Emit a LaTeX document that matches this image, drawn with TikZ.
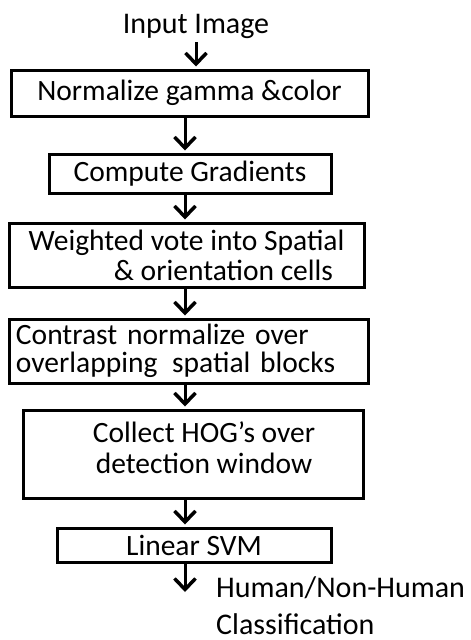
\documentclass[tikz,border=0pt]{standalone}
\usepackage{fontspec}
\setmainfont{Carlito}
\usetikzlibrary{arrows.meta}

\begin{document}
\begin{tikzpicture}[x=1pt, y=-1pt,
                    stage/.style = {draw, line width=3pt, inner sep=0pt, font=\fontsize{29.5}{30}\selectfont},
                    flow/.style = {line width=3pt, -{Straight Barb[length=11pt,width=21pt,line width=3.5pt]}, shorten >=2pt},
                    caption/.style = {inner sep=0pt, font=\fontsize{30}{37}\selectfont}]
                    \useasboundingbox (0,0) rectangle (471,640);

                    \node [caption, anchor=base] (input) at (196,33) {Input Image};

                    \node [stage, minimum width=357pt, minimum height=46pt] (gamma) at (189.5,93) {Normalize gamma \&color};
                    \node [stage, minimum width=282pt, minimum height=39pt] (grad) at (190,173.5) {Compute Gradients};
                    \node [stage, minimum width=355pt, minimum height=64pt, align=center] (vote) at (186.5,255)
                        {Weighted vote into Spatial\\\hspace*{74pt}\& orientation cells};
                    \node [stage, minimum width=359pt, minimum height=64pt, align=left, text width=345pt,
                           font=\fontsize{29.5}{28}\selectfont] (norm) at (188.5,351)
                        {Contrast normalize over\\overlapping\enspace spatial blocks};
                    \node [stage, minimum width=340pt, minimum height=88pt] (hog) at (193,454) {};
                    \node [caption, align=center, anchor=north, font=\fontsize{29.5}{31}\selectfont] (hogtext) at (204,421)
                        {Collect HOG’s over\\detection window};
                    \node [stage, minimum width=274pt, minimum height=34pt] (svm) at (194,545) {Linear SVM};

                    \node [caption, align=left, anchor=north west] (result) at (216,576) {Human/Non-Human\\Classification};

                    \coordinate (axis) at (185,0);
                    \coordinate (end) at (185,592);

                    \draw[flow] (input.south) ++(0,4) -- (input.south |- gamma.north);
                    \draw[flow] (gamma.south -| axis) -- (grad.north -| axis);
                    \draw[flow] (grad.south -| axis) -- (vote.north -| axis);
                    \draw[flow] (vote.south -| axis) -- (norm.north -| axis);
                    \draw[flow] (norm.south -| axis) -- (hog.north -| axis);
                    \draw[flow] (hog.south -| axis) -- (svm.north -| axis);
                    \draw[flow, shorten >=0pt] (svm.south -| axis) -- (end);
\end{tikzpicture}
\end{document}
